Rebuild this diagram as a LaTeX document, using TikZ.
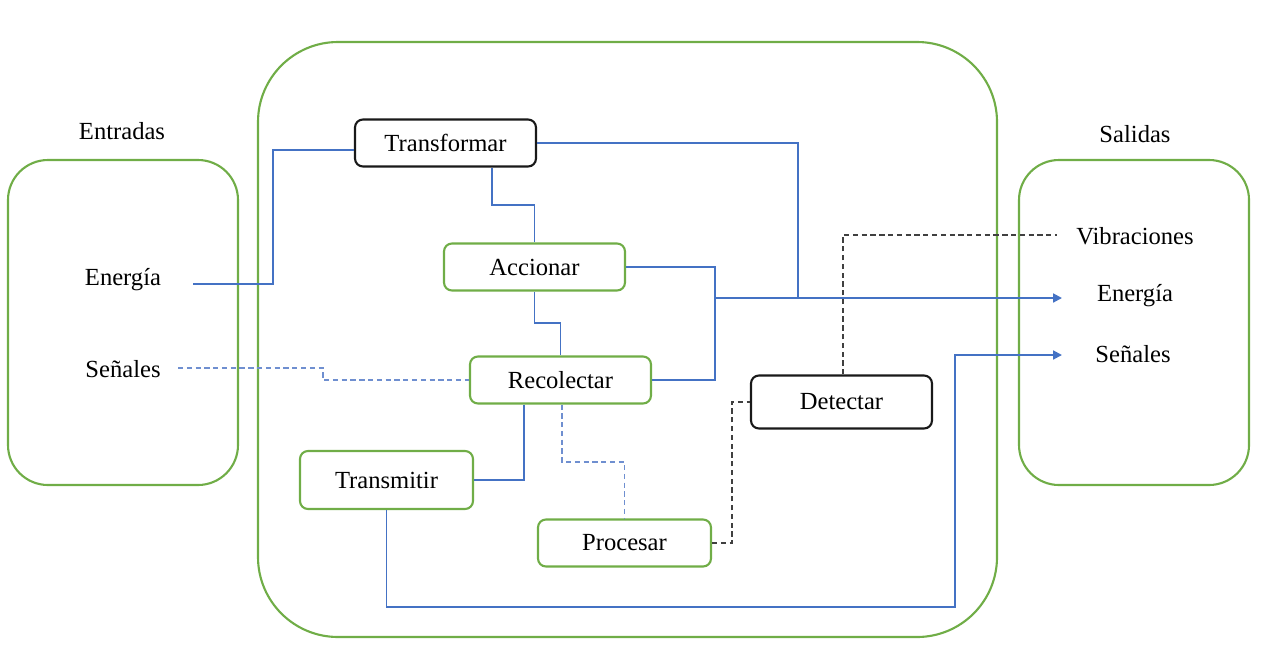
\documentclass[tikz,border=0pt]{standalone}
\usepackage{fontspec}
\setmainfont{Liberation Serif}
\usetikzlibrary{arrows.meta}
\definecolor{gr}{HTML}{70AD47}
\definecolor{bl}{HTML}{4472C4}
\definecolor{dbl}{HTML}{6F8FD0}
\definecolor{dk}{HTML}{404040}
\tikzset{
  cont/.style={draw=gr, line width=1.2pt},
  boxbase/.style={rounded corners=4.5pt, line width=1.2pt, align=center,
    font=\fontsize{14}{17}\selectfont, inner sep=0pt},
  gbox/.style={boxbase, draw=gr},
  kbox/.style={boxbase, draw=black!90},
  lbl/.style={font=\fontsize{14}{17}\selectfont, inner sep=0pt},
  bline/.style={draw=bl, line width=1.1pt},
  dline/.style={draw=dbl, line width=0.6pt, dash pattern=on 3pt off 2pt},
  kline/.style={draw=dk, line width=0.6pt, dash pattern=on 3pt off 2pt},
  arr/.style={-{Triangle[length=5pt,width=5pt]}},
}
\begin{document}
\begin{tikzpicture}[x=0.02cm,y=-0.02cm]
\useasboundingbox (0,0) rectangle (1280,660);
% containers
\draw[cont, rounded corners=1.6cm] (258,42) rectangle (997,637);
\draw[cont, rounded corners=0.8cm] (8,160) rectangle (238,485);
\draw[cont, rounded corners=0.8cm] (1019,160) rectangle (1249,485);
% labels
\node[lbl] (ent) at (122,131) {Entradas};
\node[lbl] (sal) at (1135,134) {Salidas};
\node[lbl] (eInL) at (123,280) {Energía};
\node[lbl] (sInL) at (123,369) {Señales};
\node[lbl] (vOutL) at (1135,236) {Vibraciones};
\node[lbl] (eOutL) at (1135,296) {Energía};
\node[lbl] (sOutL) at (1133,354) {Señales};
% nodes
\node[kbox, minimum width=3.62cm, minimum height=0.94cm] (T) at (445.5,143) {Transformar};
\node[gbox, minimum width=3.62cm, minimum height=0.94cm] (A) at (534.5,267) {Accionar};
\node[gbox, minimum width=3.62cm, minimum height=0.94cm] (R) at (560.5,380) {Recolectar};
\node[gbox, minimum width=3.46cm, minimum height=1.16cm] (Tm) at (386.5,480) {Transmitir};
\node[gbox, minimum width=3.46cm, minimum height=0.94cm] (P) at (624.5,543) {Procesar};
\node[kbox, minimum width=3.62cm, minimum height=1.06cm] (D) at (841.5,402) {Detectar};
% free ends
\coordinate (eIn) at (193,284);
\coordinate (sIn) at (178,368);
\coordinate (eOut) at (1062,298);
\coordinate (sOut) at (1062,355);
\coordinate (vOut) at (1057,235);
\coordinate (j1) at (715,298);
% solid connectors
\draw[bline] (eIn) -- (273,284) |- (T.west |- 0,150);
\draw[bline] (T.east) -| (798,298);
\draw[bline] (T.south -| 492,0) |- (534.5,205) -- (A.north);
\draw[bline] (A.south) -- (A.south |- 0,323) -| (R.north);
\draw[bline] (A.east) -| (R.east -| 715,0) -- (R.east);
\draw[bline, arr] (j1) -- (eOut);
\draw[bline] (R.south -| 524,0) |- (Tm.east);
\draw[bline, arr] (Tm.south) |- (955,607) |- (sOut);
% dashed connectors
\draw[dline] (sIn) -- (323,368) |- (R.west);
\draw[dline] (R.south -| 562,0) |- (624.5,462) -- (P.north);
\draw[kline] (P.east) -| (D.west -| 732,0) -- (D.west);
\draw[kline] (D.north -| 843,0) |- (vOut);
\end{tikzpicture}
\end{document}
